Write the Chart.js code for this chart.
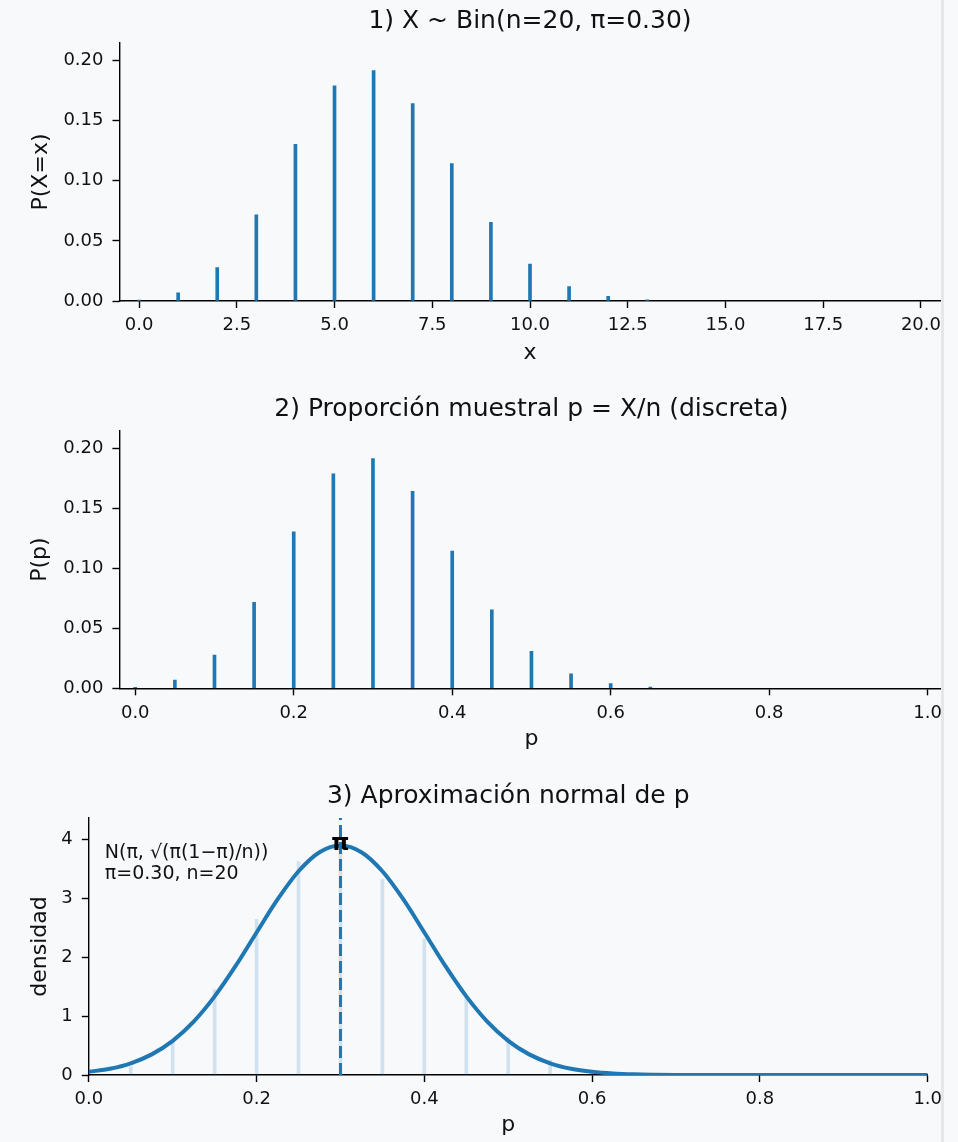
<!DOCTYPE html>
<html><head><meta charset="utf-8">
<script src="https://cdn.jsdelivr.net/npm/chart.js@4.4.1/dist/chart.umd.min.js"></script>
<style>
html,body{margin:0;padding:0;background:#f8f9fb;}
#wrap{position:relative;width:941px;height:1142px;overflow:hidden;background:#f8f9fb;border-right:3px solid #e6e7ea;}
canvas{position:absolute;left:0;}
</style></head><body>
<div id="wrap">
<canvas id="c1" width="1000" height="380" style="top:0px"></canvas>
<canvas id="c2" width="1000" height="380" style="top:388px"></canvas>
<canvas id="c3" width="1000" height="367" style="top:775px"></canvas>
</div>
<script>
// ---------- data ----------
const xCounts = [0,1,2,3,4,5,6,7,8,9,10,11,12,13,14,15,16,17,18,19,20];
const pmf = [0.0008,0.0068,0.0278,0.0716,0.1304,0.1789,0.1916,0.1643,0.1144,0.0654,0.0308,0.0120,0.0039,0.0010,0,0,0,0,0,0,0];
const pProps = [0,0.05,0.10,0.15,0.20,0.25,0.30,0.35,0.40,0.45,0.50,0.55,0.60,0.65,0.70,0.75,0.80,0.85,0.90,0.95,1.00];
const pmfP = [0.0008,0.0068,0.0278,0.0716,0.1304,0.1789,0.1916,0.1643,0.1144,0.0654,0.0308,0.0120,0.0039,0.0010,0,0,0,0,0,0,0];
const densBars = [0.016,0.14,0.57,1.45,2.64,3.62,3.86,3.32,2.31,1.32,0.63,0.25,0.08,0.02,0,0,0,0,0,0,0];
const pGrid = [0,0.025,0.05,0.075,0.1,0.125,0.15,0.175,0.2,0.225,0.25,0.275,0.3,0.325,0.35,0.375,0.4,0.425,0.45,0.475,0.5,0.525,0.55,0.575,0.6,0.625,0.65,0.675,0.7,0.725,0.75,0.8,0.85,0.9,0.95,1.0];
const densCurve = [0.054,0.106,0.199,0.350,0.580,0.906,1.334,1.850,2.418,2.978,3.456,3.779,3.893,3.779,3.456,2.978,2.418,1.850,1.334,0.906,0.580,0.350,0.199,0.106,0.054,0.025,0.011,0.005,0.002,0.001,0,0,0,0,0,0];
const piLine = [0.30, 0.30];
const piLineY = [0, 4.36];
const piMark = {x: 0.30, y: 3.92, text: 'π'};
const annotLines = ['N(π, √(π(1−π)/n))', 'π=0.30, n=20'];

const xTicks1 = [0,2.5,5,7.5,10,12.5,15,17.5,20];
const yTicks12 = [0,0.05,0.10,0.15,0.20];
const xTicks23 = [0,0.2,0.4,0.6,0.8,1.0];
const yTicks3 = [0,1,2,3,4];

const titles = ['1) X ~ Bin(n=20, π=0.30)', '2) Proporción muestral p = X/n (discreta)', '3) Aproximación normal de p'];
const xLabels = ['x','p','p'];
const yLabels = ['P(X=x)','P(p)','densidad'];

// ---------- styling ----------
const BLUE = '#1f77b4';
const TXT = '#111111';
Chart.defaults.font.family = "'DejaVu Sans', sans-serif";
Chart.defaults.color = TXT;

// points for the chart; zero-height stems are left out
function pts(xs, ys){ return xs.map((x,i)=>({x:x, y:ys[i]})).filter(p=>p.y>0); }
function line(xs, ys){ return xs.map((x,i)=>({x:x, y:ys[i]})); }

function axis(o){
  return {
    type:'linear', min:o.min, max:o.max, offset:false,
    border:{display:true, color:'#000', width:1.4},
    grid:{display:true, drawOnChartArea:false, drawTicks:true, tickLength:7, tickWidth:1.4, tickColor:'#000', offset:false},
    ticks:{font:{size:18}, color:TXT, padding:o.pad, maxRotation:0, autoSkip:false, includeBounds:false,
           callback:(v)=>Number(v).toFixed(o.dec)},
    afterBuildTicks:(s)=>{ s.ticks = o.ticks.map(v=>({value:v})); },
    title:{display:true, text:o.label, font:{size:22}, color:TXT, padding:o.tpad},
    afterFit:o.fit
  };
}

function makeChart(id, o){
  const H = o.canvasH;
  return new Chart(document.getElementById(id), {
    type:'bar',
    data:{datasets:o.datasets},
    options:{
      responsive:false, animation:false, devicePixelRatio:1,
      layout:{padding:{left:0, right:1000 - o.right, top:0, bottom:0}},
      plugins:{
        legend:{display:false}, tooltip:{enabled:false},
        title:{display:true, text:o.title, fullSize:false, color:TXT, font:{size:25, weight:'normal'}, padding:{top:6, bottom:7}}
      },
      scales:{
        x: axis({min:o.xMin, max:o.xMax, ticks:o.xTicks, dec:o.xDec, label:o.xLabel, pad:7, tpad:{top:0,bottom:o.xTitlePad},
                 fit:(s)=>{ s.height = H - o.bottom; }}),
        y: axis({min:0, max:o.yMax, ticks:o.yTicks, dec:o.yDec, label:o.yLabel, pad:9, tpad:{top:o.yTitlePad,bottom:0},
                 fit:(s)=>{ s.width = o.left; }})
      }
    },
    plugins:o.plugins || []
  });
}

// ---------- chart 1 ----------
makeChart('c1', {
  canvasH:380, left:119.5, right:940.5, bottom:301,
  xMin:-0.5, xMax:20.5, xTicks:xTicks1, xDec:1, yMax:0.2146, yTicks:yTicks12, yDec:2,
  title:titles[0], xLabel:xLabels[0], yLabel:yLabels[0], xTitlePad:13.4, yTitlePad:28.4,
  datasets:[{type:'bar', data:pts(xCounts, pmf), backgroundColor:BLUE, borderWidth:0, barThickness:3}]
});

// ---------- chart 2 ----------
makeChart('c2', {
  canvasH:380, left:119.4, right:943.5, bottom:300.3,
  xMin:-0.02, xMax:1.02, xTicks:xTicks23, xDec:1, yMax:0.2146, yTicks:yTicks12, yDec:2,
  title:titles[1], xLabel:xLabels[1], yLabel:yLabels[1], xTitlePad:15.2, yTitlePad:27.4,
  datasets:[{type:'bar', data:pts(pProps, pmfP), backgroundColor:BLUE, borderWidth:0, barThickness:3}]
});

// ---------- chart 3 ----------
const textPlugin = {
  id:'textPlugin',
  afterDatasetsDraw(chart){
    const {ctx, chartArea, scales} = chart;
    ctx.save();
    ctx.fillStyle = TXT;
    ctx.font = "19px 'DejaVu Sans'";
    ctx.textAlign = 'left'; ctx.textBaseline = 'top';
    annotLines.forEach((t,i)=>ctx.fillText(t, chartArea.left + 16, chartArea.top + 26 + i*21));
    ctx.fillStyle = '#000';
    ctx.font = "bold 23px 'DejaVu Sans'";
    ctx.textAlign = 'center'; ctx.textBaseline = 'middle';
    ctx.fillText(piMark.text, scales.x.getPixelForValue(piMark.x), scales.y.getPixelForValue(piMark.y));
    ctx.restore();
  }
};
makeChart('c3', {
  canvasH:367, left:88.8, right:927.7, bottom:300,
  xMin:0, xMax:1, xTicks:xTicks23, xDec:1, yMax:4.36, yTicks:yTicks3, yDec:0,
  title:titles[2], xLabel:xLabels[2], yLabel:yLabels[2], xTitlePad:3.7, yTitlePad:27.3,
  datasets:[
    {type:'line', data:line(piLine, piLineY), borderColor:BLUE, borderWidth:3, borderDash:[12,5], pointRadius:0, fill:false, order:0},
    {type:'line', data:line(pGrid, densCurve), borderColor:BLUE, borderWidth:4, pointRadius:0, fill:false, cubicInterpolationMode:'monotone', order:1},
    {type:'bar', data:pts(pProps, densBars), backgroundColor:'rgba(31,119,180,0.18)', borderWidth:0, barThickness:3, order:2}
  ],
  plugins:[textPlugin]
});
</script>
</body></html>
